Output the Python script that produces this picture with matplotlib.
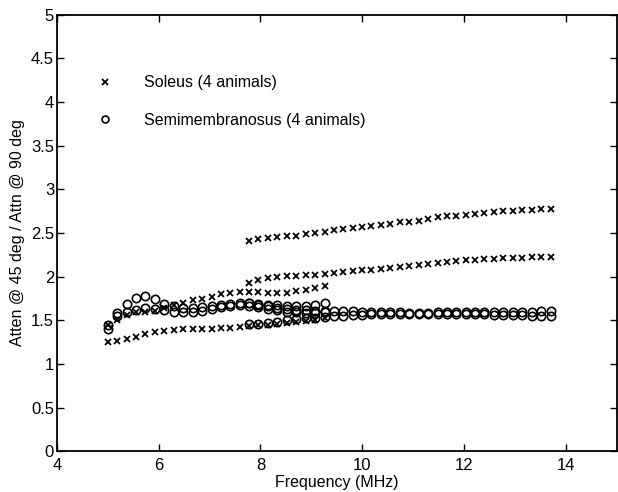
import matplotlib
matplotlib.use('Agg')
import matplotlib.pyplot as plt

plt.rcParams['font.family'] = ['Liberation Sans', 'DejaVu Sans']

# frequency grids (MHz) for the two transducers
freq_lo = [5.00, 5.19, 5.37, 5.56, 5.74, 5.93, 6.11, 6.30, 6.48, 6.67, 6.85, 7.04,
           7.22, 7.41, 7.59, 7.78, 7.96, 8.15, 8.33, 8.52, 8.70, 8.89, 9.07, 9.26]
freq_hi = [7.78, 7.96, 8.15, 8.33, 8.52, 8.70, 8.89, 9.07, 9.26, 9.44, 9.63, 9.81,
           10.00, 10.18, 10.37, 10.55, 10.74, 10.92, 11.11, 11.29, 11.48, 11.66, 11.85,
           12.03, 12.22, 12.40, 12.59, 12.77, 12.96, 13.14, 13.33, 13.51, 13.70]

# soleus, attenuation ratio
soleus_1 = [1.25, 1.26, 1.28, 1.31, 1.34, 1.36, 1.38, 1.39, 1.40, 1.40, 1.40, 1.40,
            1.41, 1.41, 1.42, 1.43, 1.44, 1.45, 1.46, 1.47, 1.48, 1.49, 1.50, 1.52]
soleus_2 = [1.45, 1.50, 1.56, 1.59, 1.60, 1.61, 1.64, 1.67, 1.70, 1.73, 1.74, 1.77,
            1.80, 1.81, 1.82, 1.82, 1.82, 1.815, 1.81, 1.815, 1.83, 1.85, 1.87, 1.89]
soleus_3 = [1.93, 1.96, 1.98, 2.00, 2.01, 2.01, 2.02, 2.02, 2.03, 2.04, 2.05, 2.06,
            2.07, 2.08, 2.09, 2.10, 2.11, 2.12, 2.13, 2.15, 2.16, 2.17, 2.18, 2.19,
            2.19, 2.20, 2.20, 2.21, 2.21, 2.21, 2.22, 2.22, 2.23]
soleus_4 = [2.41, 2.43, 2.44, 2.45, 2.46, 2.47, 2.49, 2.50, 2.51, 2.53, 2.54, 2.56,
            2.57, 2.58, 2.59, 2.60, 2.62, 2.63, 2.64, 2.66, 2.68, 2.69, 2.70, 2.71,
            2.72, 2.73, 2.74, 2.75, 2.75, 2.76, 2.76, 2.77, 2.78]

# semimembranosus, attenuation ratio
semi_1 = [1.45, 1.55, 1.69, 1.76, 1.78, 1.74, 1.69, 1.66, 1.64, 1.64, 1.65, 1.66,
          1.67, 1.69, 1.70, 1.70, 1.69, 1.68, 1.67, 1.66, 1.66, 1.66, 1.67, 1.70]
semi_2 = [1.40, 1.58, 1.60, 1.62, 1.64, 1.63, 1.62, 1.60, 1.59, 1.59, 1.61, 1.63,
          1.65, 1.66, 1.67, 1.66, 1.65, 1.63, 1.62, 1.60, 1.59, 1.58, 1.58, 1.59]
semi_3 = [1.46, 1.46, 1.47, 1.48, 1.50, 1.51, 1.52, 1.53, 1.54, 1.55, 1.55, 1.56,
          1.56, 1.57, 1.57, 1.57, 1.57, 1.57, 1.57, 1.57, 1.57, 1.57, 1.57, 1.57,
          1.57, 1.57, 1.56, 1.56, 1.56, 1.56, 1.55, 1.55, 1.55]
semi_4 = [1.70, 1.68, 1.66, 1.64, 1.63, 1.62, 1.62, 1.61, 1.61, 1.61, 1.61, 1.61,
          1.60, 1.60, 1.60, 1.59, 1.59, 1.58, 1.58, 1.58, 1.59, 1.59, 1.59, 1.60,
          1.60, 1.60, 1.60, 1.60, 1.60, 1.60, 1.60, 1.61, 1.61]

fig = plt.figure(figsize=(6.18, 4.92), dpi=100)
ax = fig.add_axes([0.092, 0.083, 0.906, 0.887])

x_style = dict(linestyle='none', marker='x', color='black', markersize=4.5, markeredgewidth=1.3)
o_style = dict(linestyle='none', marker='o', markerfacecolor='none', markeredgecolor='black',
               markersize=6, markeredgewidth=1.2)

ax.plot(freq_lo, soleus_1, label='Soleus (4 animals)', **x_style)
ax.plot(freq_lo, soleus_2, **x_style)
ax.plot(freq_hi, soleus_3, **x_style)
ax.plot(freq_hi, soleus_4, **x_style)

ax.plot(freq_lo, semi_1, label='Semimembranosus (4 animals)', **o_style)
ax.plot(freq_lo, semi_2, **o_style)
ax.plot(freq_hi, semi_3, **o_style)
ax.plot(freq_hi, semi_4, **o_style)

ax.set_xlim(4, 15)
ax.set_ylim(0, 5)
ax.set_xticks([4, 6, 8, 10, 12, 14])
ax.set_yticks([0, 0.5, 1, 1.5, 2, 2.5, 3, 3.5, 4, 4.5, 5])
ax.set_yticklabels(['0', '0.5', '1', '1.5', '2', '2.5', '3', '3.5', '4', '4.5', '5'])
ax.tick_params(direction='in', length=5, width=1, top=True, right=True,
               labelsize=12, pad=2)
ax.tick_params(axis='x', pad=5)
for s in ax.spines.values():
    s.set_linewidth(1.3)

ax.set_xlabel('Frequency (MHz)', fontsize=11.5, labelpad=1.5)
ax.set_ylabel('Atten @ 45 deg / Attn @ 90 deg', fontsize=11.5, labelpad=4)

leg = ax.legend(loc='upper left', bbox_to_anchor=(0.06, 0.876), frameon=False,
                fontsize=11.5, handlelength=1.0, handletextpad=1.95, labelspacing=1.4,
                borderaxespad=0, numpoints=1)
leg.legend_handles[1].set_markersize(5)

fig.savefig('out.png', dpi=100)
